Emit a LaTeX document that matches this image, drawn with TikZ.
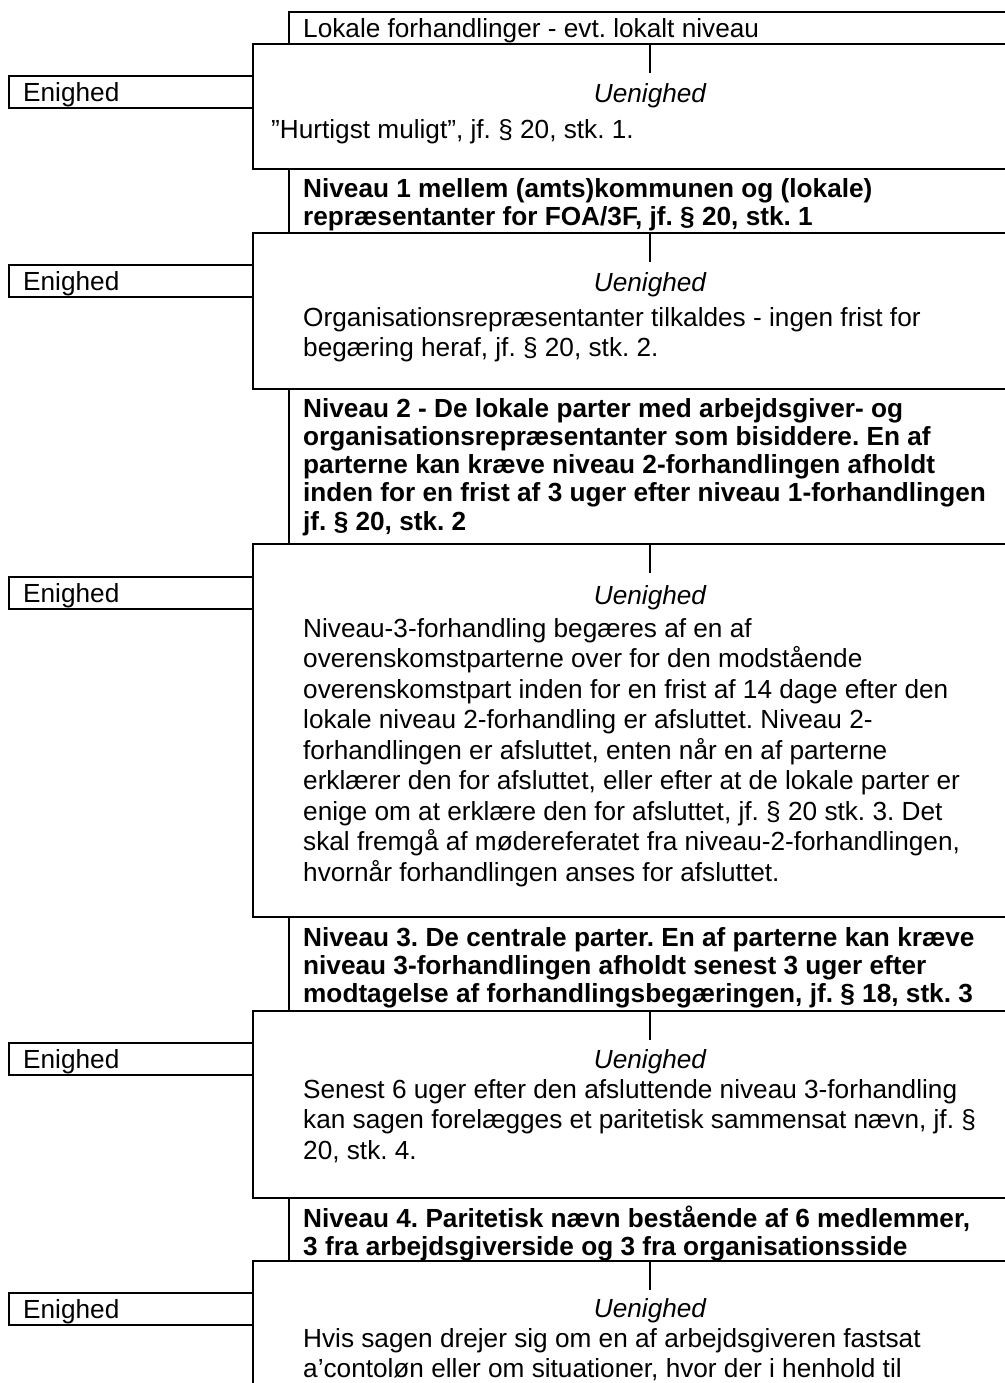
\documentclass[tikz,border=0pt]{standalone}
\usepackage{fontspec}
\setmainfont{Liberation Sans}
\frenchspacing
\newcommand{\tb}[2]{\vtop{\hsize=420pt\parindent=0pt\parskip=0pt\baselineskip=#1\relax\raggedright\noindent #2\par}}
\begin{document}
\begin{tikzpicture}[x=0.5pt,y=-0.5pt,line width=1.2pt,
  lvl/.style={draw,fill=white,anchor=north west,inner sep=0,minimum width=361pt},
  ubox/.style={draw,fill=white,anchor=north west,inner sep=0,minimum width=379pt},
  ebox/.style={draw,fill=white,anchor=north west,inner sep=0,minimum width=122pt,minimum height=16pt},
  etext/.style={anchor=base west,inner sep=0,font=\fontsize{13.1pt}{15.25pt}\selectfont},
  ulab/.style={anchor=base,inner sep=0,font=\fontsize{13.1pt}{15.25pt}\selectfont\itshape},
  body/.style={anchor=base west,inner sep=0,font=\fontsize{13.1pt}{15.25pt}\selectfont},
  bold/.style={anchor=base west,inner sep=0,font=\fontsize{13.1pt}{14.15pt}\selectfont\bfseries},
  conn/.style={draw,line width=1.2pt}]
\fill[white] (0,0) rectangle (1005,1383);
\useasboundingbox (0,0) rectangle (1005,1383);

% ---------- stage 1
\node[lvl,minimum height=21pt] (l1) at (288,11) {};
\node[body] (l1t) at (302,37) {\tb{15.25pt}{Lokale forhandlinger - evt. lokalt niveau}};
\node[ubox,minimum height=62.5pt] (u1) at (252,43) {};
\node[ebox] (e1) at (8,75) {};
\node[etext] (e1t) at (22,101.5) {Enighed};
\coordinate (k1) at (650,73);
\draw[conn] (u1.north -| k1) -- (k1);
\node[ulab] (u1l) at (650,102) {Uenighed};
\node[body] (u1t) at (270,138) {\tb{15.25pt}{”Hurtigst muligt”, jf. § 20, stk. 1.}};

% ---------- stage 2
\node[lvl,minimum height=37pt] (l2) at (288,168) {};
\node[bold] (l2t) at (302,197) {\tb{14.15pt}{Niveau 1 mellem (amts)kommunen og (lokale)\\
repræsentanter for FOA/3F, jf. § 20, stk. 1}};
\node[ubox,minimum height=78pt] (u2) at (252,232) {};
\node[ebox] (e2) at (8,264) {};
\node[etext] (e2t) at (22,290.5) {Enighed};
\coordinate (k2) at (650,262);
\draw[conn] (u2.north -| k2) -- (k2);
\node[ulab] (u2l) at (650,291) {Uenighed};
\node[body] (u2t) at (302,326) {\tb{15.25pt}{Organisationsrepræsentanter tilkaldes - ingen frist for\\
begæring heraf, jf. § 20, stk. 2.}};

% ---------- stage 3
\node[lvl,minimum height=82.5pt] (l3) at (288,388) {};
\node[bold] (l3t) at (302,417) {\tb{14.15pt}{Niveau 2 - De lokale parter med arbejdsgiver- og\\
organisationsrepræsentanter som bisiddere. En af\\
parterne kan kræve niveau 2-forhandlingen afholdt\\
inden for en frist af 3 uger efter niveau 1-forhandlingen\\
jf. § 20, stk. 2}};
\node[ubox,minimum height=186.5pt] (u3) at (252,543) {};
\node[ebox] (e3) at (8,576) {};
\node[etext] (e3t) at (22,602.5) {Enighed};
\coordinate (k3) at (650,573);
\draw[conn] (u3.north -| k3) -- (k3);
\node[ulab] (u3l) at (650,604) {Uenighed};
\node[body] (u3t) at (302,637) {\tb{15.25pt}{Niveau-3-forhandling begæres af en af\\
overenskomstparterne over for den modstående\\
overenskomstpart inden for en frist af 14 dage efter den\\
lokale niveau 2-forhandling er afsluttet. Niveau 2-\\
forhandlingen er afsluttet, enten når en af parterne\\
erklærer den for afsluttet, eller efter at de lokale parter er\\
enige om at erklære den for afsluttet, jf. § 20 stk. 3. Det\\
skal fremgå af mødereferatet fra niveau-2-forhandlingen,\\
hvornår forhandlingen anses for afsluttet.}};

% ---------- stage 4
\node[lvl,minimum height=52pt] (l4) at (288,916) {};
\node[bold] (l4t) at (302,946) {\tb{14.15pt}{Niveau 3. De centrale parter. En af parterne kan kræve\\
niveau 3-forhandlingen afholdt senest 3 uger efter\\
modtagelse af forhandlingsbegæringen, jf. § 18, stk. 3}};
\node[ubox,minimum height=93.5pt] (u4) at (252,1010) {};
\node[ebox] (e4) at (8,1042) {};
\node[etext] (e4t) at (22,1068.5) {Enighed};
\coordinate (k4) at (650,1040);
\draw[conn] (u4.north -| k4) -- (k4);
\node[ulab] (u4l) at (650,1068) {Uenighed};
\node[body] (u4t) at (302,1098) {\tb{15.25pt}{Senest 6 uger efter den afsluttende niveau 3-forhandling\\
kan sagen forelægges et paritetisk sammensat nævn, jf. §\\
20, stk. 4.}};

% ---------- stage 5
\node[lvl,minimum height=36.5pt] (l5) at (288,1197) {};
\node[bold] (l5t) at (302,1227) {\tb{14.15pt}{Niveau 4. Paritetisk nævn bestående af 6 medlemmer,\\
3 fra arbejdsgiverside og 3 fra organisationsside}};
\node[ubox,minimum height=70pt] (u5) at (252,1260) {};
\node[ebox] (e5) at (8,1292) {};
\node[etext] (e5t) at (22,1318.5) {Enighed};
\coordinate (k5) at (650,1290);
\draw[conn] (u5.north -| k5) -- (k5);
\node[ulab] (u5l) at (650,1317) {Uenighed};
\node[body] (u5t) at (302,1347) {\tb{15.25pt}{Hvis sagen drejer sig om en af arbejdsgiveren fastsat\\
a’contoløn eller om situationer, hvor der i henhold til}};
\end{tikzpicture}
\end{document}
